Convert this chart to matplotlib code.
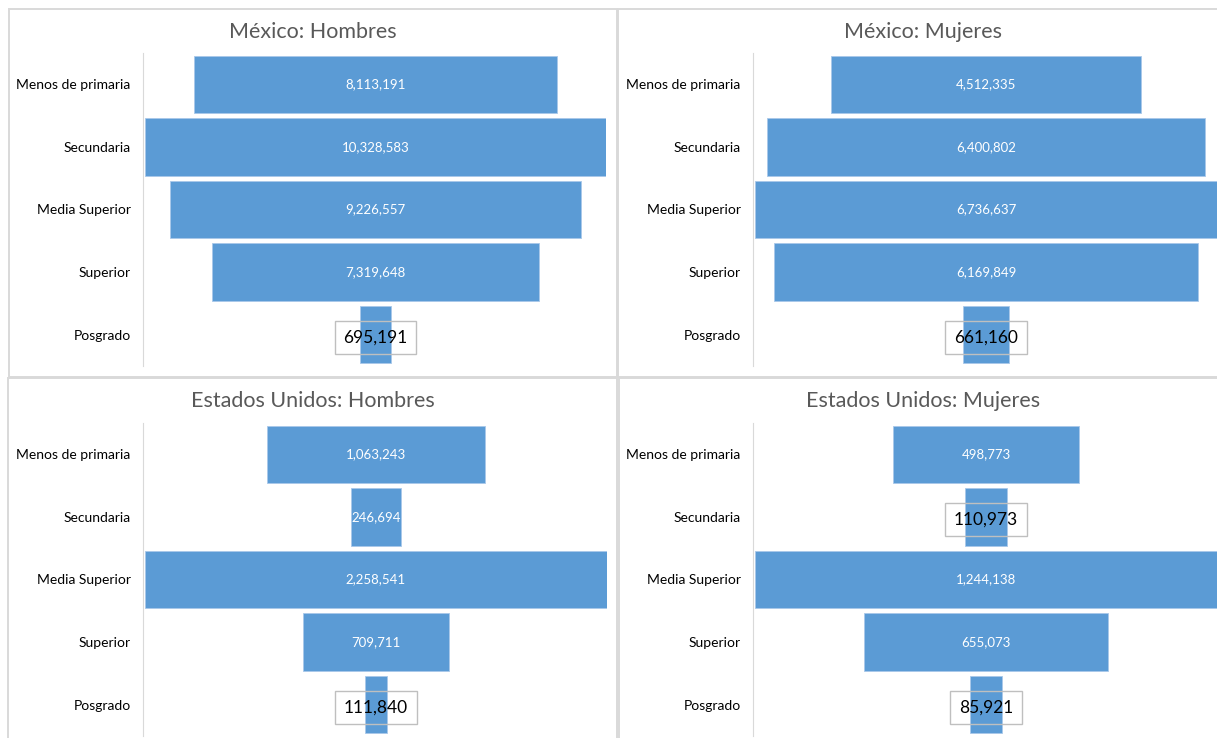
import matplotlib.pyplot as plt
from matplotlib.patches import Rectangle

plt.rcParams['font.family'] = ['Lato', 'DejaVu Sans']

niveles = ['Menos de primaria', 'Secundaria', 'Media Superior', 'Superior', 'Posgrado']

mx_hombres = [8113191, 10328583, 9226557, 7319648, 695191]
mx_mujeres = [4512335, 6400802, 6736637, 6169849, 661160]
us_hombres = [1063243, 246694, 2258541, 709711, 111840]
us_mujeres = [498773, 110973, 1244138, 655073, 85921]

titulos = ['México: Hombres', 'México: Mujeres',
           'Estados Unidos: Hombres', 'Estados Unidos: Mujeres']
series = [mx_hombres, mx_mujeres, us_hombres, us_mujeres]

W, H = 1217, 738
azul = '#5B9BD5'
gris = '#595959'
borde = '#d9d9d9'

fig = plt.figure(figsize=(W / 100, H / 100), dpi=100)


def fx(px):
    return px / W


def fy(py):
    return 1 - py / H


# panel frames (x0, y0, x1, y1 in pixels from top-left), right ones run past the edge
marcos = [(9, 9, 617, 377), (618, 9, 1228, 377),
          (8, 378, 617, 745), (619, 378, 1228, 745)]
# axes extents
ejes = [(145, 53, 606, 366), (755, 53, 1217, 366),
        (145, 423, 607, 736), (755, 423, 1217, 736)]

for marco, eje, titulo, vals in zip(marcos, ejes, titulos, series):
    x0, y0, x1, y1 = marco
    fig.patches.append(Rectangle((fx(x0), fy(y1)), fx(x1 - x0), (y1 - y0) / H,
                                 transform=fig.transFigure, fill=False,
                                 edgecolor=borde, lw=1.4, zorder=0))
    fig.text(fx((x0 + x1) / 2), fy(y0 + 23), titulo,
             ha='center', va='center', fontsize=15.5, color=gris)

    a0, b0, a1, b1 = eje
    ax = fig.add_axes([fx(a0), fy(b1), fx(a1 - a0), (b1 - b0) / H])
    m = max(vals)
    pos = list(range(len(vals)))
    ax.barh(pos, vals, left=[-v / 2 for v in vals], height=0.92,
            color=azul, edgecolor='#a9c8ea', lw=0.6)
    ax.set_xlim(-m / 2, m / 2)
    ax.set_ylim(len(vals) - 0.5, -0.5)
    ax.set_yticks(pos)
    ax.set_yticklabels(niveles, fontsize=9.5, color='#707070')
    ax.tick_params(axis='y', length=0, pad=9)
    ax.set_xticks([])
    for s in ['top', 'right', 'bottom']:
        ax.spines[s].set_visible(False)
    ax.spines['left'].set_color(borde)
    ax.spines['left'].set_position(('axes', -0.004))

    for i, v in enumerate(vals):
        txt = f'{v:,}'
        if v / m > 0.1:
            ax.text(0, i, txt, ha='center', va='center', fontsize=9.5, color='white')
        else:
            # labels too wide for the bar go in an outlined box
            ax.text(0, i + 0.04, txt, ha='center', va='center', fontsize=12.5, color='black',
                    bbox=dict(boxstyle='square,pad=0.5', fc='none', ec='#bfbfbf', lw=1))

fig.savefig('out.png', dpi=100, facecolor='white')
